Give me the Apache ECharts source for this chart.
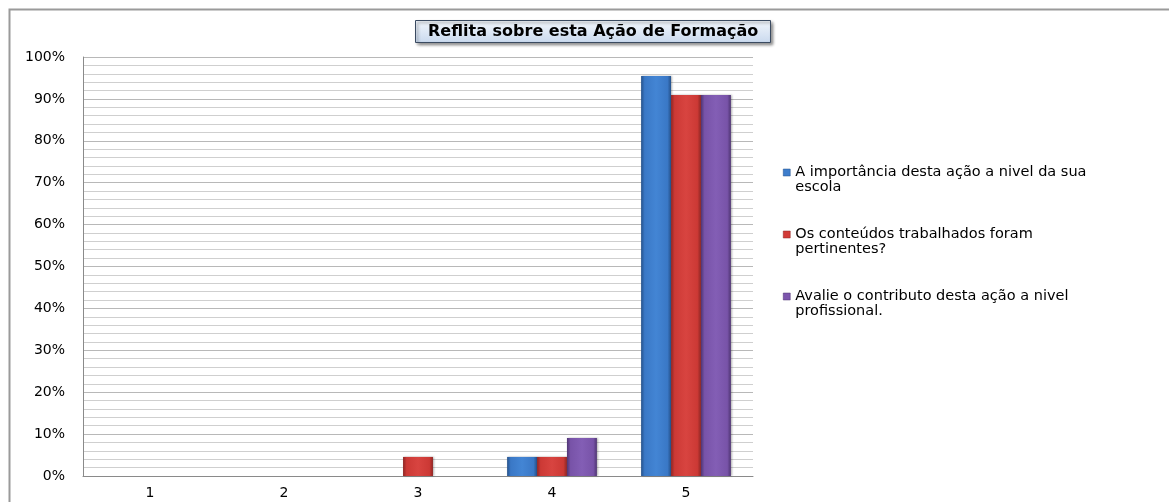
<!DOCTYPE html>
<html>
<head>
<meta charset="utf-8">
<script src="https://cdn.jsdelivr.net/npm/echarts@6/dist/echarts.min.js"></script>
<style>html,body{margin:0;padding:0;background:#fff;}#c{width:1169px;height:502px;}</style>
</head>
<body>
<div id="c"></div>
<script>
var categories = ['1', '2', '3', '4', '5'];
var seriesNames = [
  'A importância desta ação a nivel da sua escola',
  'Os conteúdos trabalhados foram pertinentes?',
  'Avalie o contributo desta ação a nivel profissional.'
];
var importancia = [0, 0, 0, 4.55, 95.45];
var conteudos = [0, 0, 4.55, 4.55, 90.91];
var contributo = [0, 0, 0, 9.09, 90.91];
var yTicks = [0, 10, 20, 30, 40, 50, 60, 70, 80, 90, 100];

function wrapWords(text, maxChars) {
  var words = text.split(' '), lines = [], cur = '';
  words.forEach(function (w) {
    if (cur && (cur + ' ' + w).length > maxChars) { lines.push(cur); cur = w; }
    else { cur = cur ? cur + ' ' + w : w; }
  });
  if (cur) lines.push(cur);
  return lines.join('\n');
}
function grad(edge, mid, light) {
  return new echarts.graphic.LinearGradient(0, 0, 1, 0, [
    {offset: 0, color: edge}, {offset: 0.12, color: mid}, {offset: 0.5, color: light},
    {offset: 0.88, color: mid}, {offset: 1, color: edge}
  ]);
}
var palette = [
  {edge: '#25518a', mid: '#3a78c6', light: '#4385d4', icon: '#3d7dcc'},
  {edge: '#8e2624', mid: '#cc3935', light: '#d84440', icon: '#d23b37'},
  {edge: '#4f3573', mid: '#7853a8', light: '#835eb5', icon: '#7d56ad'}
];
var values = [importancia, conteudos, contributo];

var chart = echarts.init(document.getElementById('c'));
var font = 'DejaVu Sans';
chart.setOption({
  animation: false,
  backgroundColor: '#fff',
  title: {
    text: 'Reflita sobre esta Ação de Formação',
    left: 415, top: 20,
    padding: [2, 13, 2, 13],
    borderColor: '#3a4a60', borderWidth: 1,
    backgroundColor: new echarts.graphic.LinearGradient(0, 0, 0, 1, [
      {offset: 0, color: '#f3f7fc'}, {offset: 1, color: '#c9d9ee'}
    ]),
    shadowColor: 'rgba(0,0,0,0.45)', shadowBlur: 3, shadowOffsetX: 2, shadowOffsetY: 2,
    textStyle: {fontFamily: font, fontWeight: 'bold', fontSize: 16, color: '#000', lineHeight: 19}
  },
  graphic: [{
    type: 'polyline',
    shape: {points: [[9.5, 502], [9.5, 9.5], [1169, 9.5]]},
    style: {stroke: '#9a9a9a', lineWidth: 2, fill: null},
    silent: true
  }],
  legend: {
    orient: 'vertical',
    left: 783, top: 150,
    padding: 0,
    itemGap: 17,
    itemWidth: 7, itemHeight: 7,
    icon: 'rect',
    formatter: function (name) { return '\n' + wrapWords(name, 40); },
    data: seriesNames.map(function (n, i) {
      return {name: n, itemStyle: {color: palette[i].icon, borderColor: palette[i].edge, borderWidth: 0.5}};
    }),
    textStyle: {fontFamily: font, fontSize: 14.5, color: '#000', lineHeight: 15}
  },
  grid: {left: 83, right: 416, top: 57, bottom: 26, containLabel: false},
  xAxis: {
    type: 'category',
    data: categories,
    axisLine: {show: true, lineStyle: {color: '#8a8a8a', width: 1}},
    axisTick: {show: false},
    axisLabel: {fontFamily: font, fontSize: 14, color: '#000', margin: 10}
  },
  yAxis: {
    type: 'value',
    min: 0, max: 100, interval: 10,
    axisLine: {show: true, lineStyle: {color: '#8a8a8a', width: 1}},
    axisTick: {show: false},
    axisLabel: {fontFamily: font, fontSize: 14, color: '#000', margin: 18,
      formatter: function (v) { return yTicks.indexOf(v) >= 0 ? v + '%' : ''; }},
    splitLine: {show: true, lineStyle: {color: '#b8b8b8', width: 1}},
    minorTick: {show: false, splitNumber: 5},
    minorSplitLine: {show: true, lineStyle: {color: '#cfcfcf', width: 1}}
  },
  series: values.map(function (arr, i) {
    return {
      name: seriesNames[i],
      type: 'bar',
      data: arr,
      barGap: '0%',
      barCategoryGap: '33%',
      itemStyle: {
        color: grad(palette[i].edge, palette[i].mid, palette[i].light),
        shadowColor: 'rgba(0,0,0,0.3)', shadowBlur: 2, shadowOffsetX: 1, shadowOffsetY: 0
      }
    };
  })
});
</script>
</body>
</html>
